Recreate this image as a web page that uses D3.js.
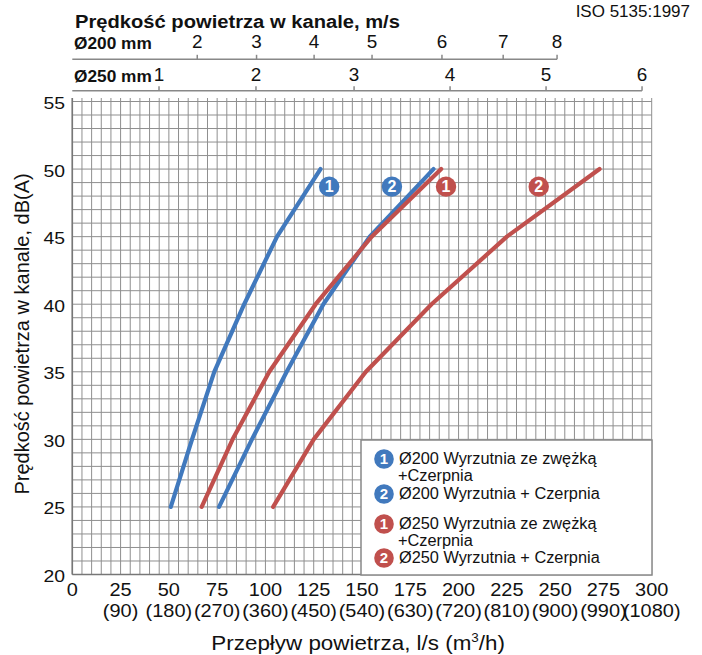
<!DOCTYPE html>
<html><head><meta charset="utf-8">
<script src="https://cdn.jsdelivr.net/npm/d3@7"></script>
<style>
body{margin:0;background:#fff}
text{font-family:"Liberation Sans",Arial,Helvetica,sans-serif;fill:#111}
</style>
</head><body>
<svg id="c" width="702" height="655"></svg>
<script>
// ---- data ----
const dbLevels = [25, 30, 35, 40, 45, 50];
const flowD200Reducer = [51, 62, 73.5, 89, 106, 128.5];   // Ø200 Wyrzutnia ze zwężką + Czerpnia
const flowD200Plain   = [76, 93, 111, 130, 154, 187];      // Ø200 Wyrzutnia + Czerpnia
const flowD250Reducer = [67, 83, 102, 126, 155, 191];      // Ø250 Wyrzutnia ze zwężką + Czerpnia
const flowD250Plain   = [104, 125, 152, 186, 225, 273];    // Ø250 Wyrzutnia + Czerpnia

const seriesNames = ["Ø200 Wyrzutnia ze zwężką\n+Czerpnia", "Ø200 Wyrzutnia + Czerpnia",
                     "Ø250 Wyrzutnia ze zwężką\n+Czerpnia", "Ø250 Wyrzutnia + Czerpnia"];
const seriesBadges = ["1", "2", "1", "2"];
const seriesKind = ["d200", "d200", "d250", "d250"];
const badgeFlow = [133, 165.5, 193.5, 241.5];
const badgeDb = [48.7, 48.7, 48.7, 48.7];

const flowTicks = [0, 25, 50, 75, 100, 125, 150, 175, 200, 225, 250, 275, 300];
const m3hLabels = ["", "(90)", "(180)", "(270)", "(360)", "(450)", "(540)", "(630)", "(720)", "(810)", "(900)", "(990)", "(1080)"];
const dbTicks = [20, 25, 30, 35, 40, 45, 50, 55];

const v200Labels = [2, 3, 4, 5, 6, 7, 8];
const v200Flow   = [64.7, 95.4, 125.2, 155.2, 191.4, 223.1, 251.0];
const v250Labels = [1, 2, 3, 4, 5, 6];
const v250Flow   = [44.9, 95.1, 145.9, 195.6, 245.3, 295.0];

// ---- layout ----
const svg = d3.select("#c");
const x = d3.scaleLinear().domain([0, 300]).range([72.3, 651.7]);
const y = d3.scaleLinear().domain([20, 55]).range([574.5, 101.5]);
const colors = {d200: "#4179bd", d250: "#c0504d"};
const gridCol = "#8f8f8f";
const SX = 1.14; // horizontal widening of the reference typeface

function T(parent, px, py, size, str, anchor, sx, weight) {
  return parent.append("text")
    .attr("transform", `translate(${px},${py}) scale(${sx},1)`)
    .attr("font-size", size).attr("text-anchor", anchor || "start")
    .attr("font-weight", weight || "normal").text(str);
}

// grid
const g = svg.append("g");
g.selectAll("line.v").data(d3.range(0, 301, 5)).join("line")
  .attr("x1", d => x(d)).attr("x2", d => x(d))
  .attr("y1", y(55) - 3.5).attr("y2", y(20))
  .attr("stroke", gridCol).attr("stroke-width", 1);
g.selectAll("line.h").data(d3.range(20, 56, 1)).join("line")
  .attr("x1", x(0)).attr("x2", x(300))
  .attr("y1", d => y(d)).attr("y2", d => y(d))
  .attr("stroke", gridCol).attr("stroke-width", 1);
g.append("line").attr("x1", x(0)).attr("x2", x(0)).attr("y1", y(55) - 3.5).attr("y2", y(20))
  .attr("stroke", "#777").attr("stroke-width", 1.6);
g.append("line").attr("x1", x(0)).attr("x2", x(300)).attr("y1", y(20)).attr("y2", y(20))
  .attr("stroke", "#777").attr("stroke-width", 1.6);

// y axis labels
dbTicks.forEach(d => T(svg, 65, y(d) + 7.5, 17, d, "end", SX));
svg.append("text").attr("transform", `translate(29,${y(37.8)}) rotate(-90)`)
  .attr("text-anchor", "middle").attr("font-size", 20)
  .text("Prędkość powietrza w kanale, dB(A)");

// x axis labels
flowTicks.forEach((d, i) => {
  T(svg, x(d), 596, 17.5, d, "middle", SX);
  T(svg, x(d), 617, 17.5, m3hLabels[i], "middle", SX);
});
const xt = svg.append("text").attr("transform", `translate(${x(148)},650) scale(1.12,1)`)
  .attr("text-anchor", "middle").attr("font-size", 20);
xt.append("tspan").text("Przepływ powietrza, l/s (m");
xt.append("tspan").attr("font-size", 12).attr("dy", -8).text("3");
xt.append("tspan").attr("dy", 8).text("/h)");

// top axes
T(svg, 75, 28, 18.5, "Prędkość powietrza w kanale, m/s", "start", 1.09, "bold");
T(svg, 690, 17, 17, "ISO 5135:1997", "end", 1.0);

function topAxis(yLine, flows, labels, maxFlow, name, labelY) {
  svg.append("line").attr("x1", x(0)).attr("x2", x(maxFlow)).attr("y1", yLine).attr("y2", yLine)
    .attr("stroke", "#888").attr("stroke-width", 1.5);
  svg.selectAll(null).data(flows).join("line")
    .attr("x1", d => x(d)).attr("x2", d => x(d)).attr("y1", yLine).attr("y2", yLine - 4.5)
    .attr("stroke", "#888").attr("stroke-width", 1.5);
  flows.forEach((d, i) => T(svg, x(d), labelY, 18, labels[i], "middle", 1.05));
  T(svg, 74, labelY + 1, 16, name, "start", 1.08, "bold");
}
topAxis(59.3, v200Flow, v200Labels, v200Flow[v200Flow.length - 1], "Ø200 mm", 48);
topAxis(90.7, v250Flow, v250Labels, v250Flow[v250Flow.length - 1], "Ø250 mm", 81);

// series
const series = [flowD200Reducer, flowD200Plain, flowD250Reducer, flowD250Plain].map((f, i) => ({
  pts: f.map((q, j) => [q, dbLevels[j]]), kind: seriesKind[i], badge: seriesBadges[i],
  name: seriesNames[i], bx: badgeFlow[i], by: badgeDb[i]
}));
const line = d3.line().x(d => x(d[0])).y(d => y(d[1]));
svg.append("g").selectAll("path").data(series).join("path")
  .attr("d", d => line(d.pts)).attr("fill", "none")
  .attr("stroke", d => colors[d.kind]).attr("stroke-width", 4.2)
  .attr("stroke-linecap", "round").attr("stroke-linejoin", "round");

function badge(cx, cy, r, txt, col, fs) {
  svg.append("circle").attr("cx", cx).attr("cy", cy).attr("r", r).attr("fill", col);
  svg.append("text").attr("x", cx).attr("y", cy + fs * 0.36).attr("text-anchor", "middle")
    .attr("font-size", fs).attr("font-weight", "bold").style("fill", "#fff").text(txt);
}
series.forEach(s => badge(x(s.bx), y(s.by), 10.2, s.badge, colors[s.kind], 16));

// legend
svg.append("rect").attr("x", 361).attr("y", 440).attr("width", 291).attr("height", 135)
  .attr("fill", "#fff").attr("stroke", "#888").attr("stroke-width", 1.5);
const legY = [459, 494, 524, 558];
series.forEach((s, i) => {
  badge(384, legY[i], 9.8, s.badge, colors[s.kind], 15);
  const lines = s.name.split("\n");
  lines.forEach((ln, k) => {
    T(svg, k === 0 ? 399 : 398, legY[i] + 5 + k * 17, 16, ln, "start", 1.02);
  });
});
</script>
</body></html>
